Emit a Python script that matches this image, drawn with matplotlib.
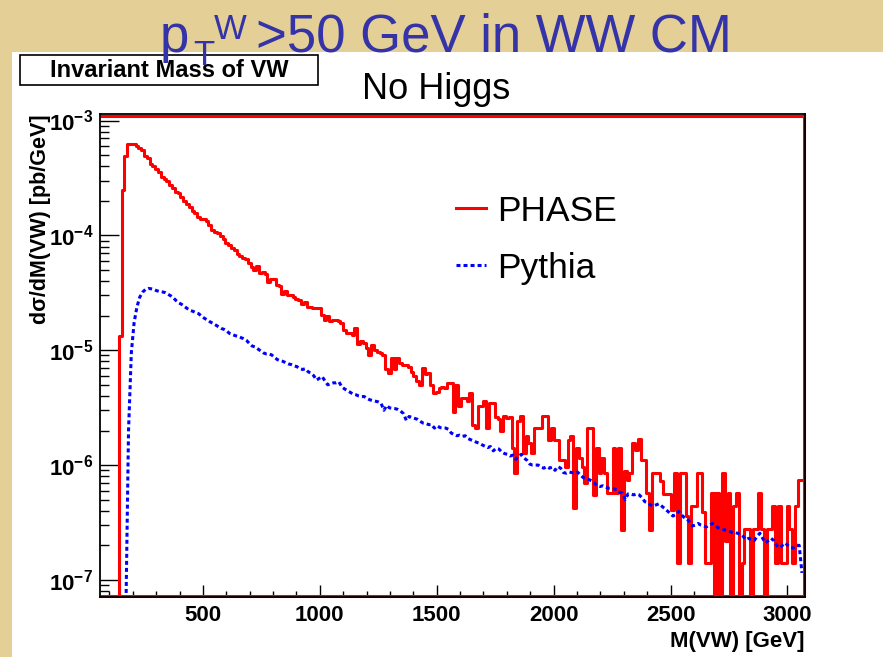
import matplotlib
matplotlib.use('Agg')
import matplotlib.pyplot as plt
import matplotlib.transforms as mtrans
import numpy as np
from matplotlib.patches import Rectangle
from matplotlib.lines import Line2D
from matplotlib.ticker import MultipleLocator, LogLocator, FuncFormatter, NullFormatter

plt.rcParams['font.family'] = 'Liberation Sans'
plt.rcParams['mathtext.fontset'] = 'custom'
plt.rcParams['mathtext.rm'] = 'Liberation Sans'
plt.rcParams['mathtext.bf'] = 'Liberation Sans:bold'
plt.rcParams['mathtext.it'] = 'Liberation Sans:italic'

# histogram binning (GeV)
bin_lo = 140
bin_w = 12

# PHASE, d sigma/dM in 1e-6 pb/GeV, one value per 12 GeV bin from 140 GeV
phase = [
    13.3, 250, 490, 630, 630, 620, 605, 580, 550, 490,
    470, 420, 400, 375, 355, 325, 310, 297, 272, 260,
    240, 233, 215, 198, 187, 178, 164, 156, 144, 140,
    138, 133, 124, 112, 107, 104, 99, 93, 85, 82,
    78, 75, 69, 66, 64, 62, 57, 53, 50, 54,
    47.5, 48, 46, 39, 42, 42, 37, 36, 31, 33,
    30.5, 30, 29, 28, 27.5, 25.5, 26.5, 23.8, 24, 23.5,
    23.5, 23.5, 20.4, 18.5, 20, 17.8, 18.3, 18.5, 17.8, 17.2,
    15, 14.2, 14, 13.6, 15.6, 11.4, 12, 11.6, 10.5, 9.1,
    11.2, 10.1, 9.6, 9.4, 9.1, 6.8, 6.3, 8.5, 6.8, 8.5,
    7.7, 7.5, 7.4, 7.2, 6.5, 6.0, 5.35, 5.0, 7.0, 6.2,
    6.3, 5.0, 4.2, 4.3, 4.7, 4.8, 4.7, 5.2, 5.2, 2.9,
    5.0, 3.24, 3.8, 3.8, 3.6, 4.2, 2.25, 2.1, 3.24, 3.3,
    3.6, 2.1, 3.5, 3.5, 2.6, 2.5, 1.97, 2.7, 2.57, 2.6,
    1.41, 0.85, 2.4, 2.65, 1.27, 1.78, 1.55, 1.27, 2.1, 2.1,
    2.1, 2.65, 2.65, 1.65, 2.1, 1.65, 1.65, 1.11, 1.11, 0.97,
    1.65, 1.78, 0.42, 1.41, 1.15, 0.97, 0.70, 2.1, 2.1, 0.55,
    1.41, 0.85, 1.15, 0.85, 0.57, 0.57, 1.41, 0.57, 1.41, 0.27,
    0.88, 0.74, 0.85, 1.56, 1.35, 1.69, 1.11, 1.11, 0.57, 0.27,
    0.85, 0.85, 0.85, 0.72, 0.56, 0.56, 0.56, 0.41, 0.85, 0.14,
    0.85, 0.85, 0.36, 0.14, 0.44, 0.44, 0.85, 0.85, 0.39, 0.14,
    0.14, 0.57, 0, 0.57, 0, 0.85, 0.22, 0.57, 0, 0.44,
    0.57, 0, 0.14, 0.28, 0.28, 0, 0.28, 0.28, 0.57, 0.28,
    0, 0.28, 0.28, 0.44, 0.14, 0.44, 0.14, 0.14, 0.44, 0.28,
    0.14, 0.44, 0.74, 0.74,
]

# Pythia, same bins (drawn through bin centres)
pythia = [
    0, 0, 0, 2.0, 9.5, 17.5, 23.8, 29, 32, 33.8,
    34.5, 34.3, 33.8, 33, 32.5, 32.2, 31.8, 30.8, 29.8, 28.5,
    27, 25.8, 25, 24, 23, 22.2, 21.8, 21.2, 20.8, 19.8,
    19, 18.4, 17.7, 17.2, 16.6, 16, 15.5, 15.2, 14.7, 14,
    13.7, 13.4, 13.2, 12.9, 12.6, 12.2, 11.5, 10.9, 10.7, 10.3,
    9.9, 9.5, 9.3, 9.3, 9.1, 8.7, 8.3, 8.1, 8.0, 7.8,
    7.6, 7.5, 7.3, 7.2, 6.9, 6.8, 6.9, 6.5, 6.3, 6.0,
    5.5, 5.7, 5.9, 5.4, 5.0, 5.1, 5.2, 5.2, 5.3, 4.8,
    4.6, 4.45, 4.3, 4.15, 4.1, 4.0, 3.95, 3.95, 3.8, 3.7,
    3.65, 3.6, 3.55, 3.45, 3.0, 3.3, 3.15, 3.12, 3.1, 3.05,
    2.95, 2.8, 2.45, 2.65, 2.6, 2.55, 2.5, 2.4, 2.32, 2.3,
    2.25, 2.25, 2.1, 2.2, 2.12, 2.1, 2.1, 2.05, 1.9, 1.85,
    1.8, 1.82, 1.78, 1.8, 1.7, 1.66, 1.62, 1.58, 1.55, 1.5,
    1.46, 1.42, 1.45, 1.33, 1.4, 1.38, 1.3, 1.26, 1.24, 1.2,
    1.22, 1.12, 1.2, 1.24, 1.15, 1.1, 1.02, 1.0, 1.0, 1.0,
    0.96, 0.94, 0.97, 0.94, 0.96, 0.9, 0.97, 0.94, 0.86, 0.85,
    0.87, 0.86, 0.85, 0.87, 0.82, 0.78, 0.76, 0.75, 0.73, 0.70,
    0.66, 0.65, 0.66, 0.64, 0.63, 0.63, 0.62, 0.61, 0.58, 0.57,
    0.50, 0.56, 0.56, 0.55, 0.56, 0.55, 0.52, 0.48, 0.47, 0.45,
    0.44, 0.45, 0.46, 0.44, 0.42, 0.40, 0.38, 0.36, 0.37, 0.395,
    0.37, 0.35, 0.34, 0.32, 0.295, 0.30, 0.31, 0.30, 0.295, 0.29,
    0.30, 0.31, 0.30, 0.285, 0.28, 0.275, 0.27, 0.265, 0.26, 0.26,
    0.255, 0.25, 0.24, 0.225, 0.23, 0.225, 0.22, 0.24, 0.255, 0.23,
    0.21, 0.22, 0.23, 0.22, 0.20, 0.19, 0.20, 0.21, 0.20, 0.19,
    0.19, 0.20, 0.20, 0.115,
]

labels = ['PHASE', 'Pythia']
xmin, xmax = 60, 3075
ymin, ymax = 7.1e-8, 1.14e-3

W, H = 883, 657
fig = plt.figure(figsize=(W / 100, H / 100), dpi=100)
fig.patch.set_facecolor('#e4cf97')
# white slide panel
fig.patches.append(Rectangle((12 / W, 0), 1 - 12 / W, 1 - 52 / H, transform=fig.transFigure,
                             facecolor='white', edgecolor='none', zorder=-2))

ax = fig.add_axes([100 / W, 1 - 597 / H, 705 / W, 483 / H])
ax.set_yscale('log')

ph = np.array(phase) * 1e-6
py = np.array(pythia) * 1e-6
# empty bins are drawn on the lower frame edge, like ROOT does on a log axis
floor = ymin * 0.6
ph_d = np.where(ph > 0, ph, floor)
py_d = np.where(py > 0, py, floor)
edges = bin_lo + bin_w * np.arange(len(ph) + 1)
centres = edges[:-1] + bin_w / 2.

xs = np.concatenate([[edges[0]], edges])
ys = np.concatenate([[floor], ph_d, [ph_d[-1]]])
ax.step(xs, ys, where='post', color='#ff0000', lw=2.2, label=labels[0])
ax.plot(centres, py_d, color='#0000ff', lw=2.2, ls=(0, (1.3, 1.0)), label=labels[1])

ax.set_xlim(xmin, xmax)
ax.set_ylim(ymin, ymax)

ax.xaxis.set_major_locator(MultipleLocator(500))
ax.xaxis.set_minor_locator(MultipleLocator(100))
ax.yaxis.set_major_locator(LogLocator(base=10))
ax.yaxis.set_minor_locator(LogLocator(base=10, subs=np.arange(2, 10)))
ax.yaxis.set_minor_formatter(NullFormatter())
ax.yaxis.set_major_formatter(FuncFormatter(lambda v, p: r'$\mathbf{10^{%d}}$' % round(np.log10(v))))
ax.tick_params(axis='both', which='both', direction='in', top=False, right=False, width=1.0)
ax.tick_params(axis='y', which='major', length=14, pad=5, labelsize=16)
ax.tick_params(axis='y', which='minor', length=6.5)
ax.tick_params(axis='x', which='major', length=9, pad=6, labelsize=16)
ax.tick_params(axis='x', which='minor', length=4)
for lab in ax.get_xticklabels():
    lab.set_fontweight('bold')

for s in ax.spines.values():
    s.set_linewidth(1.3)
    s.set_zorder(6)
# red outline just inside the top / right / bottom of the ROOT frame
px = 1.5 / 100.
for sx, sy, dx, dy in [([0, 1], [1, 1], 0, -px), ([1, 1], [0, 1], -px, 0), ([0, 1], [0, 0], 0, px)]:
    tr = ax.transAxes + mtrans.ScaledTranslation(dx, dy, fig.dpi_scale_trans)
    ax.plot(sx, sy, transform=tr, color='#ff0000', lw=2.2, clip_on=False, zorder=5,
            solid_capstyle='butt')

ax.set_xlabel('M(VW) [GeV]', fontsize=16, fontweight='bold', loc='right', labelpad=3)
ax.set_ylabel('dσ/dM(VW) [pb/GeV]', fontsize=15.5, fontweight='bold', loc='top')
ax.yaxis.set_label_coords(-0.07, 1.0)

handles = [Line2D([], [], color='#ff0000', lw=2.2),
           Line2D([], [], color='#0000ff', lw=2.2, ls=(0, (1.3, 1.0)))]
ax.legend(handles, labels, loc='upper left', bbox_to_anchor=(0.505, 0.833), frameon=False,
          fontsize=25.5, handlelength=0.85, handletextpad=0.3, labelspacing=0.68,
          borderaxespad=0, borderpad=0)

# slide title: p, subscript T, superscript W, then the rest
tc = '#3434a8'
fig.text(160 / W, 1 - 52 / H, 'p', ha='left', va='baseline', fontsize=38, color=tc)
fig.text(193 / W, 1 - 65 / H, 'T', ha='left', va='baseline', fontsize=25, color=tc)
fig.text(214 / W, 1 - 39 / H, 'W', ha='left', va='baseline', fontsize=25, color=tc)
fig.text(256 / W, 1 - 52 / H, '>50 GeV in WW CM', ha='left', va='baseline', fontsize=38, color=tc)

fig.patches.append(Rectangle((20 / W, 1 - 85 / H), 298 / W, 30 / H, transform=fig.transFigure,
                             facecolor='white', edgecolor='black', lw=1.2, zorder=1))
fig.text(169 / W, 1 - 70.5 / H, 'Invariant Mass of VW', ha='center', va='center',
         fontsize=17, fontweight='bold', zorder=2)
fig.text(436 / W, 1 - 99 / H, 'No Higgs', ha='center', va='baseline', fontsize=26)

fig.savefig('out.png', dpi=100, facecolor=fig.get_facecolor())
